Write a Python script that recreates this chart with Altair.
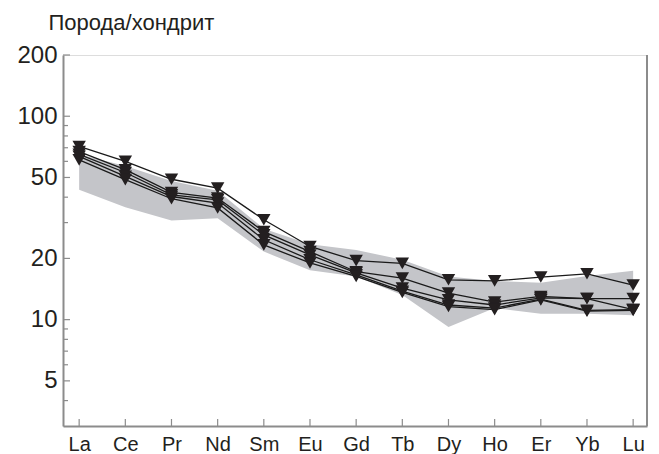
import altair as alt
import pandas as pd

elements = ["La", "Ce", "Pr", "Nd", "Sm", "Eu", "Gd", "Tb", "Dy", "Ho", "Er", "Yb", "Lu"]

s1 = [71.0, 60.0, 49.0, 44.3, 31.0, 22.9, 19.5, 18.9, 15.7, 15.5, 16.2, 16.8, 14.8]
s2 = [67.0, 54.6, 42.2, 39.6, 27.1, 21.6, 17.2, 16.0, 13.5, 12.2, 13.0, 12.7, 12.7]
s3 = [65.0, 52.9, 41.1, 38.8, 26.1, 20.8, 17.0, 14.3, 12.5, 11.8, 12.8, 12.7, 11.2]
s4 = [63.5, 50.6, 40.3, 37.4, 24.7, 19.7, 16.6, 13.8, 11.8, 11.4, 12.6, 11.1, 11.2]
s5 = [61.0, 48.8, 39.3, 35.4, 23.3, 19.0, 16.3, 13.6, 11.6, 11.2, 12.5, 11.0, 11.1]

band_low = [43.5, 35.7, 30.7, 31.5, 21.6, 17.5, 16.3, 13.2, 9.2, 11.4, 10.7, 10.7, 10.5]
band_high = [65.0, 57.0, 48.0, 43.0, 28.0, 23.5, 22.0, 19.7, 16.3, 15.5, 15.2, 16.4, 17.4]

y_major = [5, 10, 20, 50, 100, 200]
y_minor = [4, 6, 7, 8, 9, 30, 40, 60, 70, 80, 90]

W, H = 584, 371
TXT = "#231f20"
AX = "#8c8c8c"
FONT = "Liberation Sans"

rows = []
for name, vals in [("s1", s1), ("s2", s2), ("s3", s3), ("s4", s4), ("s5", s5)]:
    for i, v in enumerate(vals):
        rows.append({"series": name, "idx": i, "el": elements[i], "val": v})
df = pd.DataFrame(rows)

band = pd.DataFrame({"idx": list(range(len(elements))), "lo": band_low, "hi": band_high})
xt = pd.DataFrame({"idx": list(range(len(elements)))})

label_expr = "[" + ",".join("'%s'" % e for e in elements) + "][datum.value]"

xscale = alt.Scale(domain=[-0.35, 12.3], nice=False, zero=False)
yscale = alt.Scale(type="log", domain=[3, 200], nice=False)

x_axis = alt.Axis(values=list(range(len(elements))), labelExpr=label_expr, ticks=False,
                  grid=False, domainColor=AX, domainWidth=2, labelFont=FONT,
                  labelFontSize=20, labelColor=TXT, labelPadding=8, title=None)
y_axis = alt.Axis(values=y_major, ticks=False, grid=False, domainColor=AX, domainWidth=2,
                  labelFont=FONT, labelFontSize=24, labelColor=TXT, labelPadding=6,
                  format="d", title="Порода/хондрит", titleAngle=0, titleAlign="left",
                  titleBaseline="alphabetic", titleX=-15, titleY=-26, titleFont=FONT,
                  titleFontSize=22, titleFontWeight="normal", titleColor=TXT)

area = alt.Chart(band).mark_area(color="#c4c5c9", opacity=1).encode(
    x=alt.X("idx:Q", scale=xscale, axis=x_axis),
    y=alt.Y("lo:Q", scale=yscale, axis=y_axis),
    y2="hi:Q",
)

lines = alt.Chart(df).mark_line(color="#1a1a1a", strokeWidth=1.3).encode(
    x=alt.X("idx:Q", scale=xscale),
    y=alt.Y("val:Q", scale=yscale),
    detail="series:N",
)

pts = alt.Chart(df).mark_point(shape="triangle-down", filled=True, color=TXT,
                               size=180, opacity=1).encode(
    x=alt.X("idx:Q", scale=xscale),
    y=alt.Y("val:Q", scale=yscale),
)

ymaj = alt.Chart(pd.DataFrame({"v": y_major})).mark_rule(color=AX, strokeWidth=1.2).encode(
    y=alt.Y("v:Q", scale=yscale), x=alt.value(0), x2=alt.value(7))
ymin = alt.Chart(pd.DataFrame({"v": y_minor})).mark_rule(color=AX, strokeWidth=1.2).encode(
    y=alt.Y("v:Q", scale=yscale), x=alt.value(0), x2=alt.value(5))

xticks = alt.Chart(xt).mark_rule(color=AX, strokeWidth=1.2).encode(
    x=alt.X("idx:Q", scale=xscale), y=alt.value(H), y2=alt.value(H - 7))

right_edge = alt.Chart(xt).mark_rule(color=AX, strokeWidth=2).encode(
    x=alt.value(W), y=alt.value(0), y2=alt.value(H))

chart = alt.layer(area, lines, pts, ymaj, ymin, xticks, right_edge).properties(
    width=W, height=H,
    autosize=alt.AutoSizeParams(type="none"),
    padding={"left": 55, "top": 47, "right": 4, "bottom": 28},
).configure_view(stroke="#1a1a1a", strokeWidth=1.3).configure(background="white")

chart.save("out.html", embed_options={"renderer": "svg", "actions": False})
